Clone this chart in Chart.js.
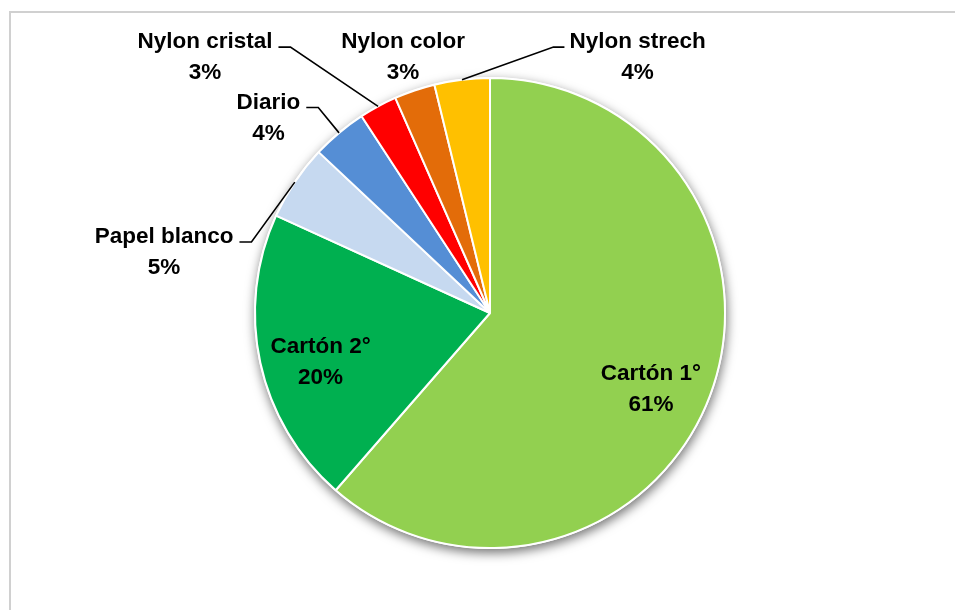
<!DOCTYPE html>
<html>
<head>
<meta charset="utf-8">
<script src="https://cdn.jsdelivr.net/npm/chart.js@4.4.1/dist/chart.umd.min.js"></script>
<style>
  html, body { margin: 0; padding: 0; background: #ffffff; }
  #wrap { width: 955px; height: 610px; position: relative; }
</style>
</head>
<body>
<div id="wrap"><canvas id="c" width="955" height="610"></canvas></div>
<script>
// ---- data ----
const categories = ['Cartón 1°', 'Cartón 2°', 'Papel blanco', 'Diario', 'Nylon cristal', 'Nylon color', 'Nylon strech'];
const values = [61.4, 20.4, 5.2, 3.8, 2.6, 2.8, 3.8];

// ---- styles ----
const sliceColors = ['#92D050', '#00B050', '#C6D9F0', '#558ED5', '#FF0000', '#E36C09', '#FFC000'];
const FONT = 'bold 22.5px "Liberation Sans", Arial, sans-serif';
const LINE_GAP = 31;
// label placement in units of the pie radius, relative to the pie centre
const labelPlacement = [
  { dx: 0.685, dy: 0.319, leader: null },
  { dx: -0.721, dy: 0.204, leader: null },
  { dx: -1.387, dy: -0.262, leader: 'left' },
  { dx: -0.943, dy: -0.834, leader: 'left' },
  { dx: -1.213, dy: -1.091, leader: 'left' },
  { dx: -0.370, dy: -1.091, leader: null },
  { dx: 0.628, dy: -1.091, leader: 'right' }
];

const frame = {
  id: 'frame',
  beforeDraw(chart) {
    const ctx = chart.ctx;
    ctx.save();
    ctx.strokeStyle = '#D0D0D0';
    ctx.lineWidth = 2;
    ctx.strokeRect(10, 12, chart.width + 20, chart.height + 20);
    ctx.restore();
  }
};

const shadow = {
  id: 'shadow',
  beforeDatasetsDraw(chart) {
    const arc = chart.getDatasetMeta(0).data[0];
    if (!arc) return;
    const ctx = chart.ctx;
    ctx.save();
    ctx.shadowColor = 'rgba(0,0,0,0.55)';
    ctx.shadowBlur = 11;
    ctx.shadowOffsetX = 1;
    ctx.shadowOffsetY = 4;
    ctx.fillStyle = '#ffffff';
    ctx.beginPath();
    ctx.arc(arc.x, arc.y, arc.outerRadius + 1, 0, Math.PI * 2);
    ctx.fill();
    ctx.restore();
  }
};

const labels = {
  id: 'pieLabels',
  afterDatasetsDraw(chart) {
    const meta = chart.getDatasetMeta(0);
    const ctx = chart.ctx;
    const data = chart.data.datasets[0].data;
    const total = data.reduce((a, b) => a + b, 0);
    ctx.save();
    ctx.font = FONT;
    ctx.fillStyle = '#000000';
    ctx.textAlign = 'center';
    ctx.textBaseline = 'middle';
    meta.data.forEach((arc, i) => {
      const p = labelPlacement[i];
      const R = arc.outerRadius;
      const cx = arc.x + p.dx * R;
      const cy = arc.y + p.dy * R;
      const line1 = chart.data.labels[i];
      const line2 = Math.round(data[i] / total * 100) + '%';
      const y1 = cy - LINE_GAP / 2 + 1;
      const y2 = cy + LINE_GAP / 2 + 1;
      ctx.fillText(line1, cx, y1);
      ctx.fillText(line2, cx, y2);
      if (p.leader) {
        const w = ctx.measureText(line1).width;
        const mid = (arc.startAngle + arc.endAngle) / 2;
        const ex = arc.x + Math.cos(mid) * R;
        const ey = arc.y + Math.sin(mid) * R;
        const ly = y1 + 5;
        let sx, hx;
        if (p.leader === 'left') {
          sx = cx + w / 2 + 6; hx = sx + 12;
        } else {
          sx = cx - w / 2 - 5; hx = sx - 11;
        }
        ctx.beginPath();
        ctx.strokeStyle = '#000000';
        ctx.lineWidth = 1.6;
        ctx.moveTo(sx, ly);
        ctx.lineTo(hx, ly);
        ctx.lineTo(ex, ey);
        ctx.stroke();
      }
    });
    ctx.restore();
  }
};

new Chart(document.getElementById('c'), {
  type: 'pie',
  data: {
    labels: categories,
    datasets: [{
      data: values,
      backgroundColor: sliceColors,
      borderColor: '#ffffff',
      borderWidth: 2
    }]
  },
  options: {
    responsive: false,
    animation: false,
    layout: { padding: { left: 254, right: 229, top: 77, bottom: 61 } },
    plugins: {
      legend: { display: false },
      tooltip: { enabled: false }
    }
  },
  plugins: [frame, shadow, labels]
});
</script>
</body>
</html>
